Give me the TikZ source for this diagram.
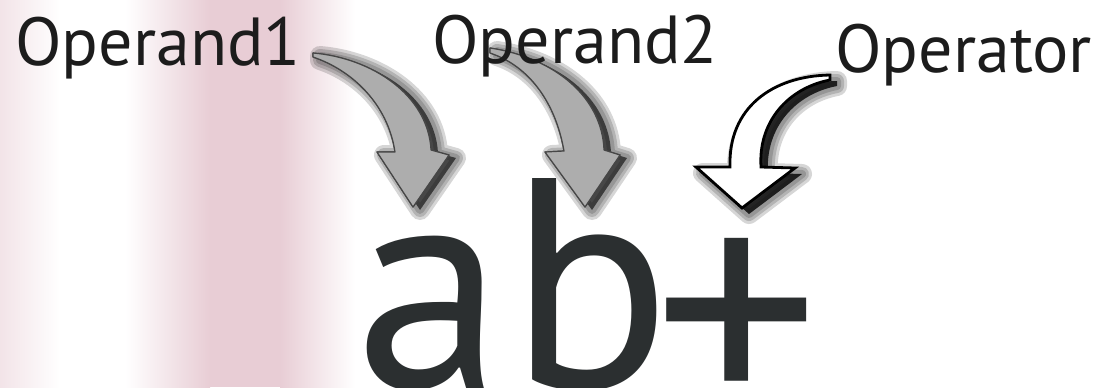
\documentclass[tikz,border=0pt]{standalone}
\usepackage{fontspec}
\setmainfont{PT Sans}
\usetikzlibrary{positioning}
\definecolor{arrowgray}{HTML}{ADADAD}
\definecolor{blush}{HTML}{E8CDD5}
\definecolor{inkblack}{HTML}{1C1C1C}
\definecolor{glyphgray}{HTML}{2B2F30}
% block arrow outlines, in pixels of the page (y runs down)
\newcommand\arrowA{(313,53) .. controls (372,58) and (428,95) .. (431,150) -- (449,155) -- (413,207) -- (377,152) -- (395,152) .. controls (388,104) and (352,70) .. (313,57) -- cycle}
\newcommand\arrowB{(490,48) .. controls (556,58) and (602,98) .. (604,150) -- (620,155) -- (585,207) -- (545,152) -- (564,151) .. controls (556,104) and (530,66) .. (490,53) -- cycle}
\newcommand\arrowC{(830,75) .. controls (772,76) and (728,108) .. (730,167) -- (696,167) -- (742,208) -- (795,168) -- (761,167) .. controls (758,122) and (788,88) .. (830,80) -- cycle}
% soft shadow under an arrow
\newcommand\castshadow[3]{%
  \begin{scope}[shift={#2}]
    \foreach \w in {10,7,4} \draw[shadowblur=\w pt] #1;
    \fill[black, opacity=#3] #1;
  \end{scope}}
\tikzset{
  shadowblur/.style={black, opacity=0.16, line width=#1, line join=round},
  graybody/.style={fill=arrowgray, draw=gray!55!black, line width=0.6pt, line join=round},
  whitebody/.style={fill=white, draw=black, line width=1.4pt, line join=miter},
  tag/.style={font=\fontsize{34}{34}\selectfont, inner sep=0pt, anchor=base west, text=inkblack},
  bigexpr/.style={font=\fontsize{150}{150}\selectfont, inner sep=0pt, anchor=base west, text=glyphgray}
}
\begin{document}
\begin{tikzpicture}[x=0.5pt, y=-0.5pt]
\useasboundingbox (0,0) rectangle (1106,387);
\fill[white] (0,0) rectangle (1106,387);
% pink cast of the photo, left side
\shade[left color=white, right color=blush] (125,0) rectangle (210,387);
\fill[blush] (210,0) rectangle (280,387);
\shade[left color=blush, right color=white] (280,0) rectangle (355,387);
\shade[left color=blush!55, right color=white] (0,0) rectangle (60,387);
% arrows
\castshadow{\arrowA}{(7,3)}{0.6}
\fill[graybody] \arrowA;
\castshadow{\arrowB}{(7,3)}{0.6}
\fill[graybody] \arrowB;
\draw[graybody] \arrowA;
\draw[graybody] \arrowB;
\castshadow{\arrowC}{(7,6)}{0.8}
\draw[whitebody] \arrowC;
% labels
\node[tag] (opnd1) at (15,65) {Operand1};
\node[tag] (opnd2) at (432,63) {Operand2};
\node[tag] (optr) at (835,72) {Operator};
% postfix expression
\node[bigexpr] (chara) at (355,388) {a};
\node[bigexpr] (charb) at (509,388) {b};
\node[bigexpr, anchor=base, font=\fontsize{165}{165}\selectfont] (plus) at (737,421) {+};
\end{tikzpicture}
\end{document}
